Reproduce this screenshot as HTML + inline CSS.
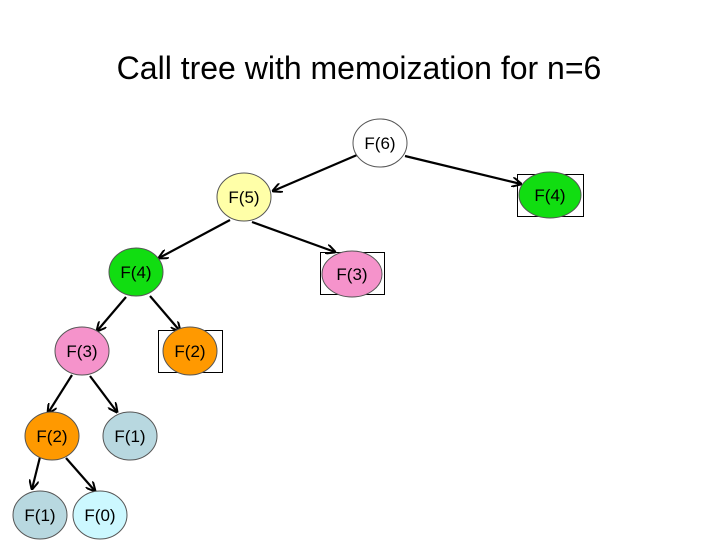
<!DOCTYPE html>
<html><head><style>
html,body{margin:0;padding:0;background:#fff;}
svg{display:block;}
text{font-family:"Liberation Sans",sans-serif;}
</style></head><body>
<svg width="720" height="540" viewBox="0 0 720 540">
<defs><marker id="a" markerWidth="10" markerHeight="10" refX="9" refY="5" orient="auto" markerUnits="userSpaceOnUse"><path d="M0,0 L10,5 L0,10" fill="none" stroke="#000" stroke-width="2"/></marker></defs>
<text x="359" y="79" font-size="32" text-anchor="middle">Call tree with memoization for n=6</text>
<g stroke="#000" stroke-width="2.2" marker-end="url(#a)">
<line x1="357" y1="155" x2="273" y2="191"/>
<line x1="405" y1="156" x2="521" y2="184"/>
<line x1="230" y1="220" x2="159" y2="258"/>
<line x1="252" y1="222" x2="335" y2="252"/>
<line x1="126" y1="297" x2="97" y2="331"/>
<line x1="150" y1="296" x2="180" y2="331"/>
<line x1="72" y1="375" x2="48" y2="413"/>
<line x1="90" y1="376" x2="117" y2="412"/>
<line x1="40" y1="457" x2="32" y2="489"/>
<line x1="66" y1="458" x2="95" y2="491"/>
</g>
<g fill="none" stroke="#000" stroke-width="1">
<rect x="517.5" y="174.5" width="66" height="42"/>
<rect x="320.5" y="252.5" width="64" height="42"/>
<rect x="158.5" y="330.5" width="64" height="42"/>
</g>
<g stroke="#555" stroke-width="1">
<ellipse cx="380" cy="143" rx="27" ry="24" fill="#fff"/>
<ellipse cx="244" cy="197" rx="27" ry="24" fill="#ffffa8"/>
<ellipse cx="550" cy="195" rx="31" ry="23" fill="#11dd11"/>
<ellipse cx="352" cy="274" rx="30" ry="23" fill="#f593cb"/>
<ellipse cx="136" cy="272" rx="27" ry="24" fill="#11dd11"/>
<ellipse cx="82" cy="351" rx="27" ry="24" fill="#f593cb"/>
<ellipse cx="190" cy="351" rx="27" ry="24" fill="#ff9900"/>
<ellipse cx="52" cy="436" rx="27" ry="24" fill="#ff9900"/>
<ellipse cx="130" cy="436" rx="27" ry="24" fill="#b8d8e0"/>
<ellipse cx="40" cy="515" rx="27" ry="24" fill="#b8d8e0"/>
<ellipse cx="100" cy="515" rx="27" ry="24" fill="#ccf8ff"/>
</g>
<g font-size="17" text-anchor="middle">
<text x="380" y="149">F(6)</text>
<text x="244" y="203">F(5)</text>
<text x="550" y="201">F(4)</text>
<text x="352" y="280">F(3)</text>
<text x="136" y="278">F(4)</text>
<text x="82" y="357">F(3)</text>
<text x="190" y="357">F(2)</text>
<text x="52" y="442">F(2)</text>
<text x="130" y="442">F(1)</text>
<text x="40" y="521">F(1)</text>
<text x="100" y="521">F(0)</text>
</g>
</svg>
</body></html>
